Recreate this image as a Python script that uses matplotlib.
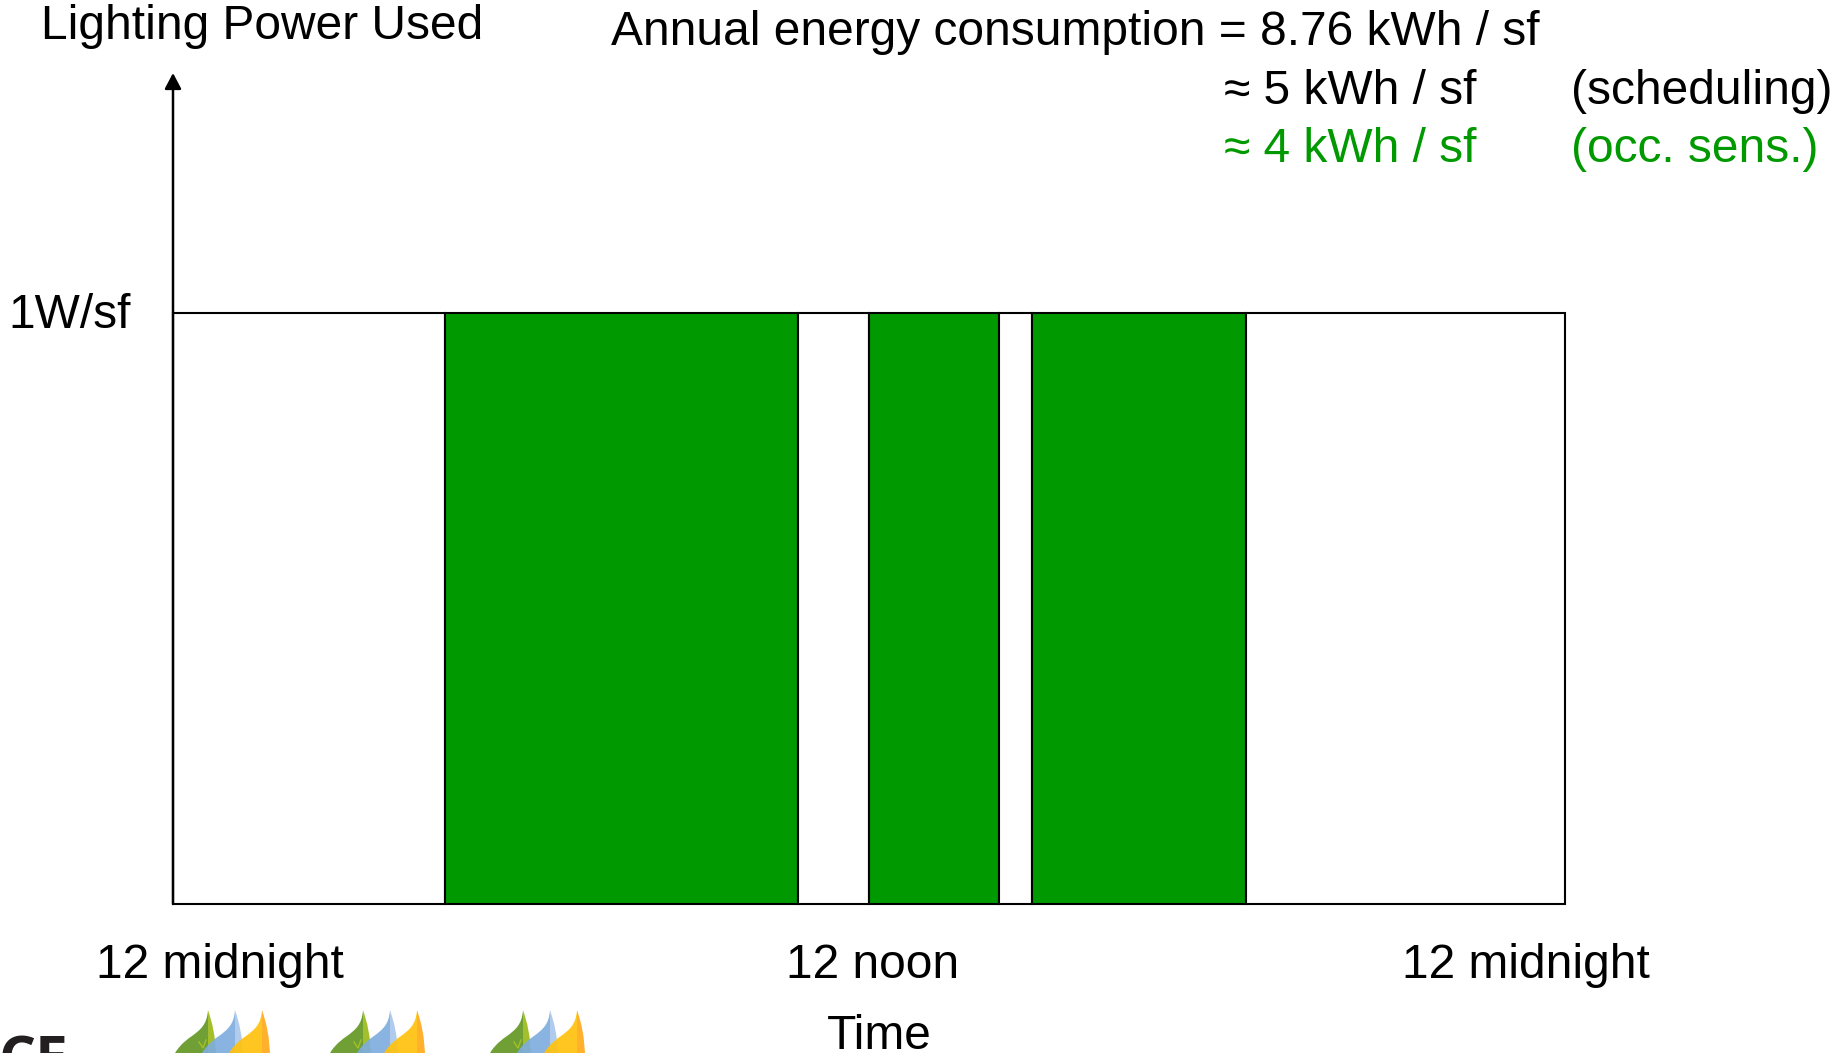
import matplotlib.pyplot as plt
from matplotlib.patches import PathPatch
from matplotlib.path import Path

plt.rcParams['font.family'] = ['Liberation Sans', 'DejaVu Sans']

# lighting schedule, hours since midnight
seg_start = [0, 4.69, 10.78, 12.0, 14.24, 14.81, 18.5]
seg_end = [4.69, 10.78, 12.0, 14.24, 14.81, 18.5, 24]
seg_power = [1, 1, 1, 1, 1, 1, 1]
seg_occupied = [False, True, False, True, False, True, False]

GREEN = '#009900'
W, H = 1834, 1053
FS = 34.45

fig = plt.figure(figsize=(W / 100, H / 100), dpi=100, facecolor='white')
ax = fig.add_axes([173 / W, (H - 904) / H, (1565 - 173) / W, (904 - 73) / H])
ax.set_xlim(0, 24)
ax.set_ylim(0, 1.405)
for s in ax.spines.values():
    s.set_visible(False)
ax.set_xticks([])
ax.set_yticks([])
ax.patch.set_alpha(0)

for a, b, p, occ in zip(seg_start, seg_end, seg_power, seg_occupied):
    ax.bar(a, p, width=b - a, align='edge', color=GREEN if occ else 'white',
           edgecolor='black', linewidth=1.5, clip_on=False)

ax.annotate('', xy=(0, 1.405), xytext=(0, 0), annotation_clip=False,
            arrowprops=dict(arrowstyle='-|>,head_width=0.5,head_length=0.95', color='black',
                            lw=1.8, shrinkA=0, shrinkB=0))

# overlay in pixel coords for the slide text and logos
ov = fig.add_axes([0, 0, 1, 1])
ov.set_xlim(0, W)
ov.set_ylim(H, 0)
ov.axis('off')
ov.patch.set_alpha(0)


def label(x, y, s, color='black'):
    ov.text(x, y, s, color=color, fontsize=FS, ha='left', va='baseline')


label(41, 39, 'Lighting Power Used')
label(611, 45, 'Annual energy consumption = 8.76 kWh / sf')
label(1224, 104, '≈ 5 kWh / sf')
label(1571, 104, '(scheduling)')
label(1224, 162, '≈ 4 kWh / sf', GREEN)
label(1571, 162, '(occ. sens.)', GREEN)
label(8, 328, '1W/sf')
label(96, 978, '12 midnight')
label(786, 978, '12 noon')
label(1402, 978, '12 midnight')
label(827, 1049, 'Time')

ov.text(68, 1078, 'CE', color='#231f20', fontsize=42, fontweight='bold', family='Open Sans',
        ha='right', va='baseline')


def leaf(tip_x, left_color, right_color, alpha=1.0):
    verts = [(tip_x, 1010), (tip_x - 1, 1025), (tip_x - 8, 1030), (tip_x - 16, 1036),
             (tip_x - 25, 1042), (tip_x - 33, 1050), (tip_x - 36, 1060),
             (tip_x, 1060), (tip_x, 1010)]
    codes = [Path.MOVETO, Path.CURVE4, Path.CURVE4, Path.CURVE4,
             Path.CURVE4, Path.CURVE4, Path.CURVE4, Path.LINETO, Path.CLOSEPOLY]
    ov.add_patch(PathPatch(Path(verts, codes), facecolor=left_color, edgecolor='none', alpha=alpha))
    verts = [(tip_x, 1010), (tip_x + 4, 1022), (tip_x + 8, 1036), (tip_x + 8, 1060),
             (tip_x, 1060), (tip_x, 1010)]
    codes = [Path.MOVETO, Path.CURVE4, Path.CURVE4, Path.CURVE4, Path.LINETO, Path.CLOSEPOLY]
    ov.add_patch(PathPatch(Path(verts, codes), facecolor=right_color, edgecolor='none', alpha=alpha))


for x0 in [208, 363, 523]:
    leaf(x0, '#6f9f35', '#a3c02c')
    ov.plot([x0 - 9, x0 - 5, x0 - 2], [1042, 1048, 1040], color='#a3c02c', lw=1)
    leaf(x0 + 27, '#7fadde', '#a9c7ea', 0.92)
    leaf(x0 + 54, '#ffc20e', '#ffa91a', 0.92)

fig.savefig('out.png', dpi=100)
